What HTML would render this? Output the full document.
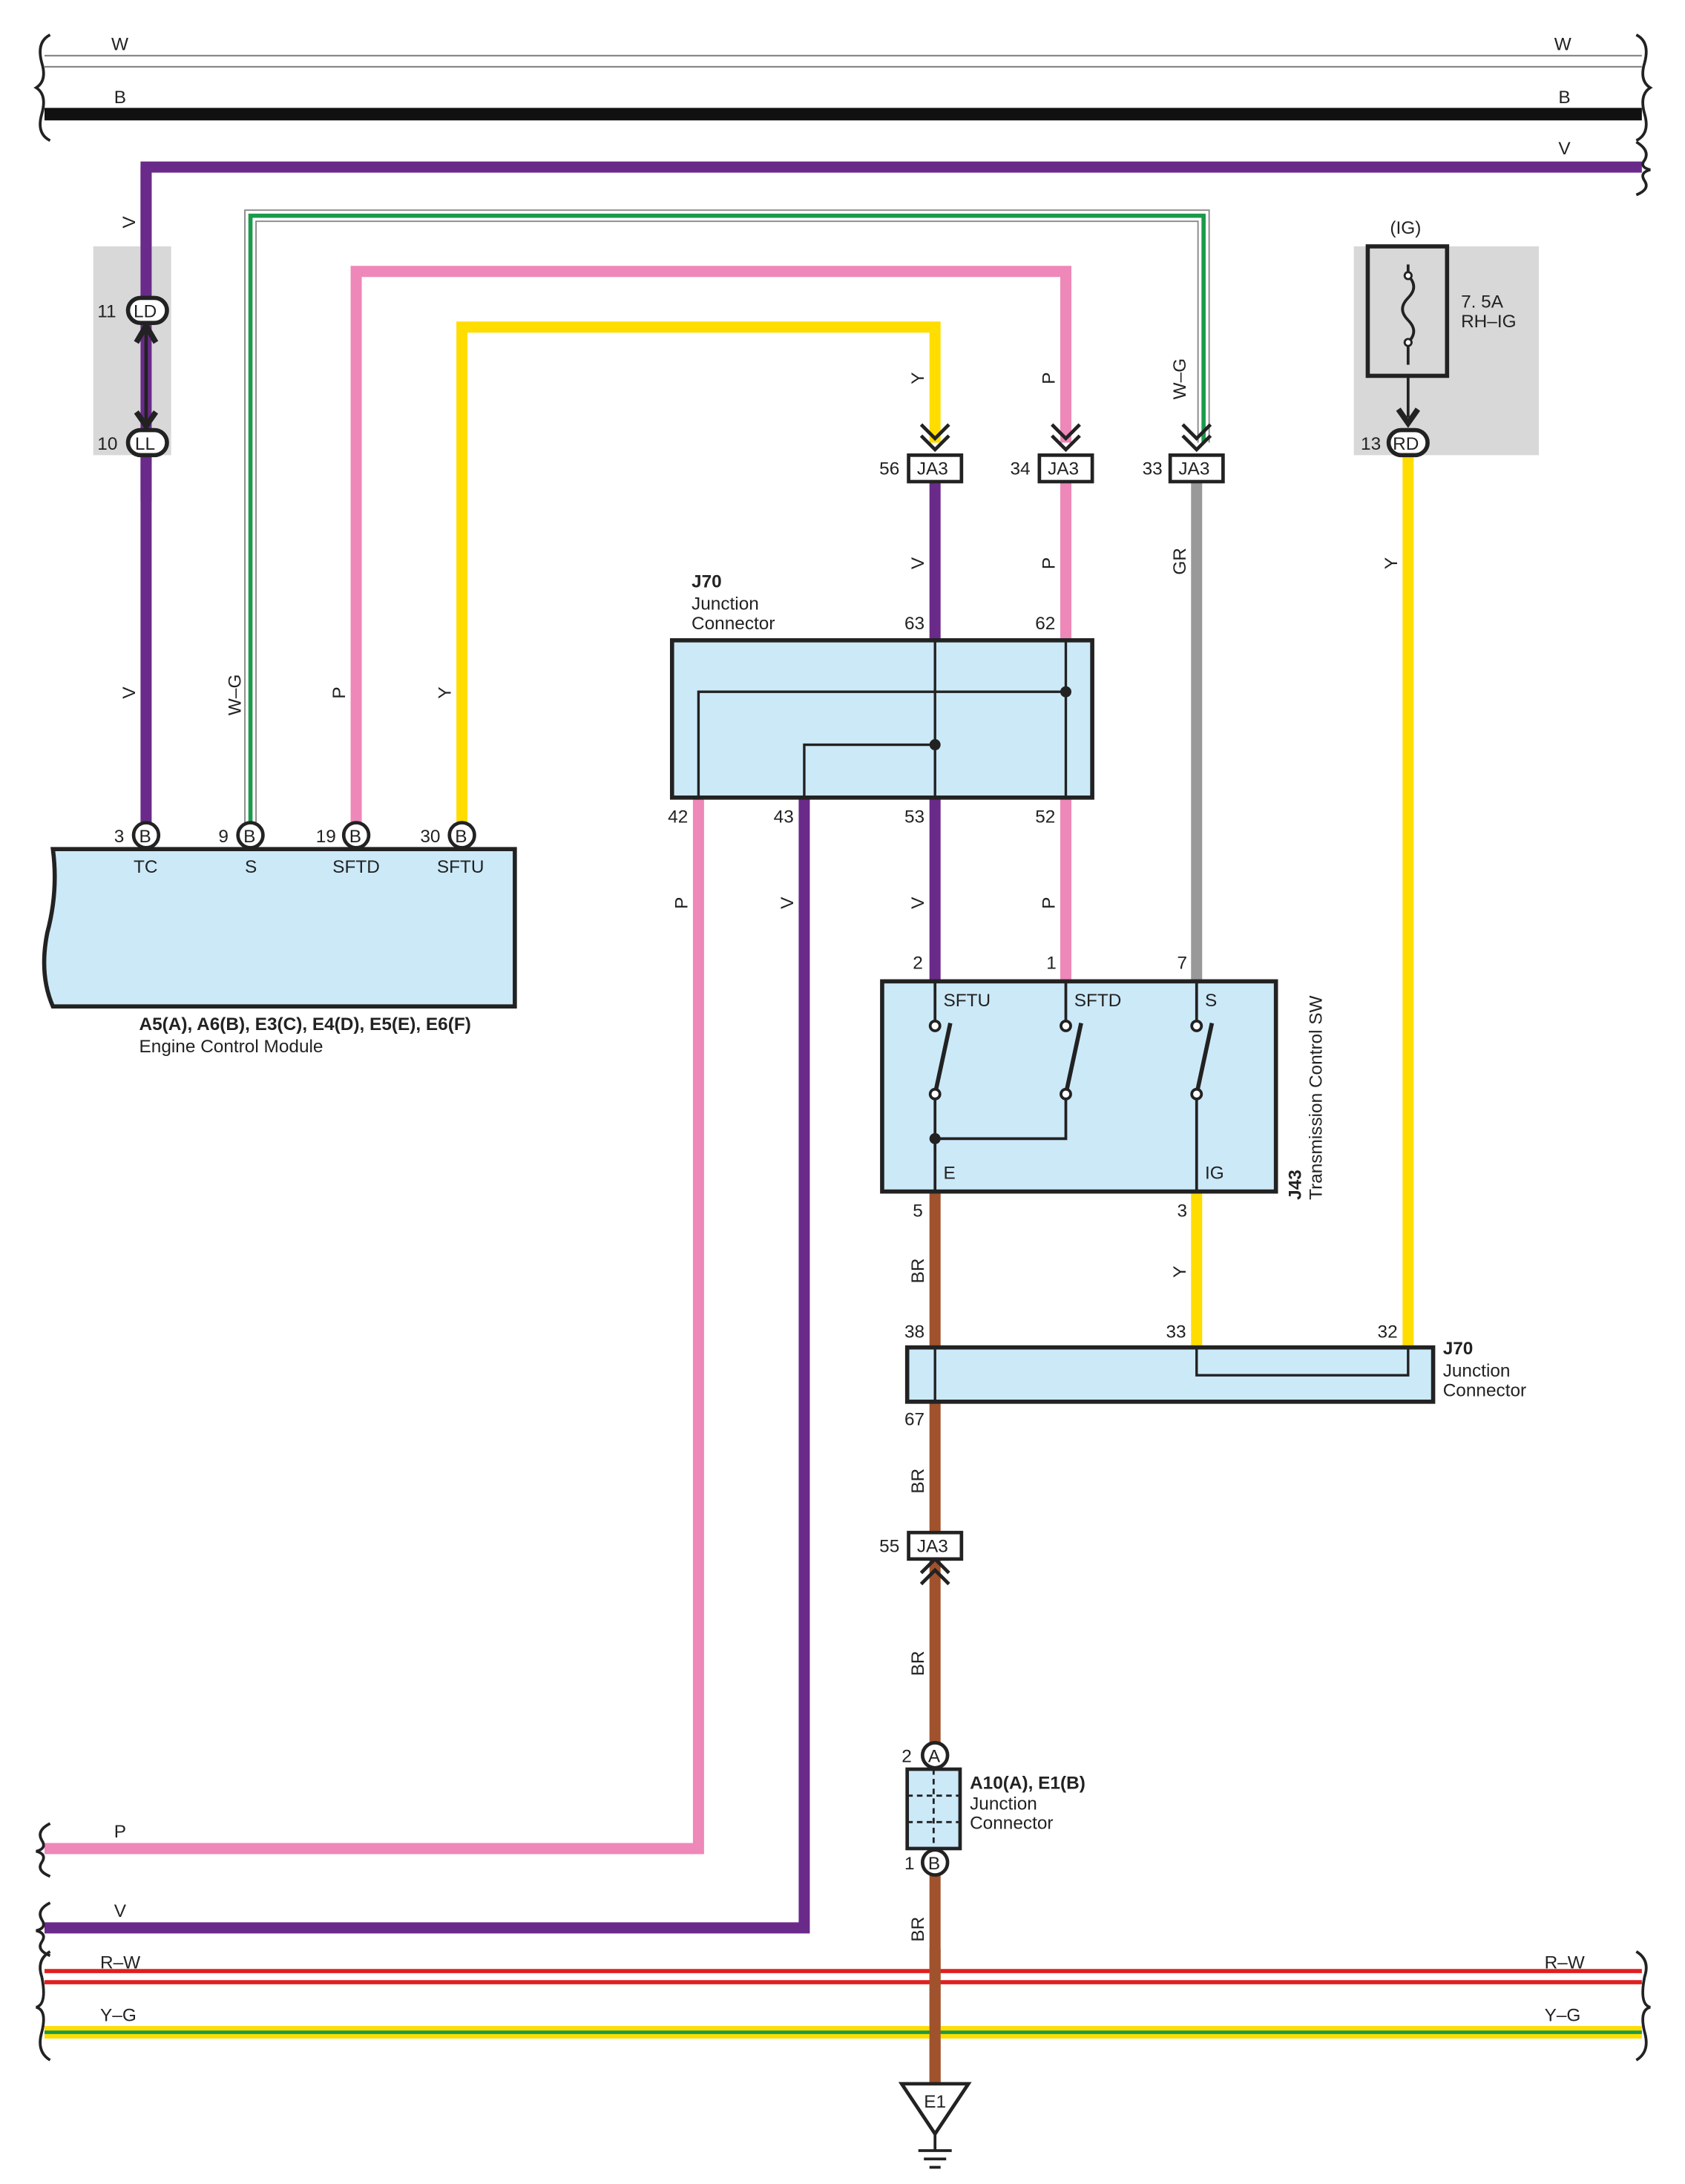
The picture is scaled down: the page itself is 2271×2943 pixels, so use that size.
<!DOCTYPE html>
<html><head><meta charset="utf-8"><style>
html,body{margin:0;padding:0;background:#fff}
svg{display:block}
text{font-family:"Liberation Sans",sans-serif;font-size:13px;fill:#222}
</style></head><body>
<svg width="2271" height="2943" viewBox="0 0 1211 1569" preserveAspectRatio="none" xmlns="http://www.w3.org/2000/svg">
<g fill="none" stroke-linejoin="miter">
<!-- W wire -->
<line x1="32" y1="40" x2="1180" y2="40" stroke="#888" stroke-width="1.2"/>
<line x1="32" y1="48" x2="1180" y2="48" stroke="#888" stroke-width="1.2"/>
<!-- B wire -->
<line x1="32" y1="82" x2="1180" y2="82" stroke="#111" stroke-width="9"/>
<!-- V top -->
<path d="M105 600 V120 H1180" stroke="#6a2a8a" stroke-width="8"/>
<!-- W-G -->
<path d="M180 600 V155 H865 V318" stroke="#888" stroke-width="9"/>
<path d="M180 600 V155 H865 V318" stroke="#fff" stroke-width="7"/>
<path d="M180 600 V155 H865 V318" stroke="#1a9a4a" stroke-width="3"/>
<!-- Pink -->
<path d="M256 600 V195 H766 V318" stroke="#ee88b8" stroke-width="8"/>
<path d="M766 345 V460 M766 573 V705" stroke="#ee88b8" stroke-width="8"/>
<path d="M502 573 V1328 H32" stroke="#ee88b8" stroke-width="8"/>
<!-- Yellow -->
<path d="M332 600 V235 H672 V318" stroke="#ffdd00" stroke-width="8"/>
<path d="M1012 327 V968 M860 856 V968" stroke="#ffdd00" stroke-width="8"/>
<!-- Purple -->
<path d="M672 345 V460 M672 573 V705" stroke="#6a2a8a" stroke-width="8"/>
<path d="M578 573 V1385 H32" stroke="#6a2a8a" stroke-width="8"/>
<!-- Gray -->
<path d="M860 345 V705" stroke="#999" stroke-width="8"/>
<!-- Brown -->
<path d="M672 856 V1500" stroke="#a0522d" stroke-width="8"/>
<!-- R-W -->
<line x1="32" y1="1416" x2="1180" y2="1416" stroke="#e02020" stroke-width="3"/>
<line x1="32" y1="1424" x2="1180" y2="1424" stroke="#e02020" stroke-width="3"/>
<!-- Y-G -->
<line x1="32" y1="1460" x2="1180" y2="1460" stroke="#ffdd00" stroke-width="9"/>
<line x1="32" y1="1460" x2="1180" y2="1460" stroke="#1a9a4a" stroke-width="2.5"/>
<!-- brown over horizontal -->
<path d="M672 1400 V1500" stroke="#a0522d" stroke-width="8"/>
<!-- brace ends -->
<g stroke="#222" stroke-width="2">
<path d="M36 25 Q26 30 30 45 Q34 58 26 63 Q34 68 30 82 Q26 96 36 101"/>
<path d="M1176 25 Q1186 30 1182 45 Q1178 58 1186 63 Q1178 68 1182 82 Q1186 96 1176 101"/>
<path d="M1176 102 Q1186 108 1182 115 Q1178 120 1186 122 Q1178 124 1182 130 Q1186 136 1176 140"/>
<path d="M36 1310 Q26 1315 30 1322 Q34 1328 26 1330 Q34 1332 30 1338 Q26 1344 36 1348"/>
<path d="M36 1367 Q26 1372 30 1379 Q34 1385 26 1387 Q34 1389 30 1395 Q26 1401 36 1405"/>
<path d="M36 1402 Q26 1408 30 1420 Q34 1440 26 1442 Q34 1444 30 1460 Q26 1474 36 1480"/>
<path d="M1176 1402 Q1186 1408 1182 1420 Q1178 1440 1186 1442 Q1178 1444 1182 1460 Q1186 1474 1176 1480"/>
</g>
</g>
<!-- gray boxes -->
<rect x="67" y="177" width="56" height="150" fill="#d8d8d8"/>
<rect x="973" y="177" width="133" height="150" fill="#d8d8d8"/>
<path d="M105 120 V360" stroke="#6a2a8a" stroke-width="8"/>
<path d="M1012 270 V300" stroke="#222" stroke-width="2"/>
<!-- LD LL -->
<line x1="105" y1="232" x2="105" y2="308" stroke="#222" stroke-width="2.5"/>
<path d="M98 246 L105 234 L112 246 M98 296 L105 306 L112 296" fill="none" stroke="#222" stroke-width="4"/>
<rect x="92" y="214" width="28" height="18" rx="9" fill="#fff" stroke="#222" stroke-width="3"/>
<rect x="92" y="309" width="28" height="18" rx="9" fill="#fff" stroke="#222" stroke-width="3"/>
<text x="96" y="228">LD</text><text x="97" y="323">LL</text>
<text x="70" y="228">11</text><text x="70" y="323">10</text>
<!-- fuse -->
<rect x="983" y="177" width="57" height="93" fill="none" stroke="#222" stroke-width="3"/>
<path d="M1012 190 V198 Q1020 206 1012 214 Q1004 222 1012 230 Q1020 238 1012 246 V262" fill="none" stroke="#222" stroke-width="2"/>
<circle cx="1012" cy="198" r="2.5" fill="#fff" stroke="#222" stroke-width="1.5"/>
<circle cx="1012" cy="246" r="2.5" fill="#fff" stroke="#222" stroke-width="1.5"/>
<path d="M1005 294 L1012 304 L1019 294" fill="none" stroke="#222" stroke-width="4"/>
<rect x="998" y="309" width="28" height="18" rx="9" fill="#fff" stroke="#222" stroke-width="3"/>
<text x="1001" y="323">RD</text><text x="978" y="323">13</text>
<text x="999" y="168">(IG)</text>
<text x="1050" y="221">7. 5A</text><text x="1050" y="235">RH–IG</text>
<!-- JA3 top -->
<g stroke="#222" stroke-width="2.5" fill="none">
<path d="M662 305 L672 315 L682 305 M662 313 L672 323 L682 313"/>
<path d="M756 305 L766 315 L776 305 M756 313 L766 323 L776 313"/>
<path d="M850 305 L860 315 L870 305 M850 313 L860 323 L870 313"/>
<path d="M662 1138 L672 1128 L682 1138 M662 1130 L672 1120 L682 1130"/>
</g>
<g fill="#fff" stroke="#222" stroke-width="2.5">
<rect x="653" y="327" width="38" height="19"/><rect x="747" y="327" width="38" height="19"/><rect x="841" y="327" width="38" height="19"/>
<rect x="653" y="1101" width="38" height="19"/>
</g>
<text x="659" y="341">JA3</text><text x="753" y="341">JA3</text><text x="847" y="341">JA3</text><text x="659" y="1115">JA3</text>
<text x="632" y="341">56</text><text x="726" y="341">34</text><text x="821" y="341">33</text><text x="632" y="1115">55</text>
<!-- J70 upper -->
<rect x="483" y="460" width="302" height="113" fill="#cce9f8" stroke="#222" stroke-width="3"/>
<g stroke="#222" stroke-width="1.8" fill="none">
<path d="M672 460 V573 M766 460 V573 M502 573 V497 H766 M578 573 V535 H672"/>
</g>
<circle cx="766" cy="497" r="4" fill="#222"/><circle cx="672" cy="535" r="4" fill="#222"/>
<text x="497" y="422" style="font-weight:bold">J70</text><text x="497" y="438">Junction</text><text x="497" y="452">Connector</text>
<text x="650" y="452">63</text><text x="744" y="452">62</text>
<text x="480" y="591">42</text><text x="556" y="591">43</text><text x="650" y="591">53</text><text x="744" y="591">52</text>
<!-- ECM -->
<path d="M38 610 H370 V723 H38 Q28 700 34 670 Q42 640 38 610 Z" fill="#cce9f8" stroke="#222" stroke-width="3"/>
<g fill="#fff" stroke="#222" stroke-width="2.5">
<circle cx="105" cy="600" r="9"/><circle cx="180" cy="600" r="9"/><circle cx="256" cy="600" r="9"/><circle cx="332" cy="600" r="9"/>
<circle cx="672" cy="1261" r="9"/><circle cx="672" cy="1338" r="9"/>
</g>
<text x="100" y="605">B</text><text x="175" y="605">B</text><text x="251" y="605">B</text><text x="327" y="605">B</text>
<text x="82" y="605">3</text><text x="157" y="605">9</text><text x="227" y="605">19</text><text x="302" y="605">30</text>
<text x="96" y="627">TC</text><text x="176" y="627">S</text><text x="239" y="627">SFTD</text><text x="314" y="627">SFTU</text>
<text x="100" y="740" style="font-weight:bold">A5(A), A6(B), E3(C), E4(D), E5(E), E6(F)</text>
<text x="100" y="756">Engine Control Module</text>
<!-- J43 -->
<rect x="634" y="705" width="283" height="151" fill="#cce9f8" stroke="#222" stroke-width="3"/>
<g stroke="#222" stroke-width="2" fill="none">
<path d="M672 705 V733 M766 705 V733 M860 705 V733"/>
<path d="M672 790 V856 M766 790 V818 H672 M860 790 V856"/>
<path d="M672 786 L683 735 M766 786 L777 735 M860 786 L871 735" stroke-width="3"/>
<circle cx="672" cy="737" r="3.5" fill="#fff"/><circle cx="766" cy="737" r="3.5" fill="#fff"/><circle cx="860" cy="737" r="3.5" fill="#fff"/>
<circle cx="672" cy="786" r="3.5" fill="#fff"/><circle cx="766" cy="786" r="3.5" fill="#fff"/><circle cx="860" cy="786" r="3.5" fill="#fff"/>
</g>
<circle cx="672" cy="818" r="4" fill="#222"/>
<text x="678" y="723">SFTU</text><text x="772" y="723">SFTD</text><text x="866" y="723">S</text>
<text x="678" y="847">E</text><text x="866" y="847">IG</text>
<text x="656" y="696">2</text><text x="752" y="696">1</text><text x="846" y="696">7</text>
<text x="656" y="874">5</text><text x="846" y="874">3</text>
<text transform="translate(935,862) rotate(-90)" style="font-weight:bold">J43</text>
<text transform="translate(950,862) rotate(-90)">Transmission Control SW</text>
<!-- J70 lower -->
<rect x="652" y="968" width="378" height="39" fill="#cce9f8" stroke="#222" stroke-width="3"/>
<path d="M672 968 V1007 M860 968 V988 H1012 V968" stroke="#222" stroke-width="1.8" fill="none"/>
<text x="650" y="961">38</text><text x="838" y="961">33</text><text x="990" y="961">32</text><text x="650" y="1024">67</text>
<text x="1037" y="973" style="font-weight:bold">J70</text><text x="1037" y="989">Junction</text><text x="1037" y="1003">Connector</text>
<!-- A10 -->
<rect x="652" y="1271" width="38" height="57" fill="#cce9f8" stroke="#222" stroke-width="2.5"/>
<path d="M652 1290 H690 M652 1309 H690 M671 1271 V1328" stroke="#222" stroke-width="1.5" stroke-dasharray="4 3"/>
<text x="667" y="1266">A</text><text x="667" y="1343">B</text>
<text x="648" y="1266">2</text><text x="650" y="1343">1</text>
<text x="697" y="1285" style="font-weight:bold">A10(A), E1(B)</text><text x="697" y="1300">Junction</text><text x="697" y="1314">Connector</text>
<!-- ground -->
<path d="M648 1497 H696 L672 1533 Z" fill="#fff" stroke="#222" stroke-width="2.5"/>
<path d="M672 1533 V1545 M660 1545 H684 M664 1551 H680 M668 1557 H676" stroke="#222" stroke-width="2"/>
<text x="664" y="1514">E1</text>
<!-- wire labels horizontal -->
<text x="80" y="36">W</text><text x="1117" y="36">W</text>
<text x="82" y="74">B</text><text x="1120" y="74">B</text>
<text x="1120" y="111">V</text>
<text x="82" y="1320">P</text><text x="82" y="1377">V</text>
<text x="72" y="1414">R–W</text><text x="1110" y="1414">R–W</text>
<text x="72" y="1452">Y–G</text><text x="1110" y="1452">Y–G</text>
<!-- vertical labels -->
<g>
<text transform="translate(97,164) rotate(-90)">V</text>
<text transform="translate(97,502) rotate(-90)">V</text>
<text transform="translate(173,514) rotate(-90)">W–G</text>
<text transform="translate(248,502) rotate(-90)">P</text>
<text transform="translate(324,502) rotate(-90)">Y</text>
<text transform="translate(664,276) rotate(-90)">Y</text>
<text transform="translate(758,276) rotate(-90)">P</text>
<text transform="translate(852,287) rotate(-90)">W–G</text>
<text transform="translate(664,409) rotate(-90)">V</text>
<text transform="translate(758,409) rotate(-90)">P</text>
<text transform="translate(852,413) rotate(-90)">GR</text>
<text transform="translate(1004,409) rotate(-90)">Y</text>
<text transform="translate(494,653) rotate(-90)">P</text>
<text transform="translate(570,653) rotate(-90)">V</text>
<text transform="translate(664,653) rotate(-90)">V</text>
<text transform="translate(758,653) rotate(-90)">P</text>
<text transform="translate(664,922) rotate(-90)">BR</text>
<text transform="translate(852,918) rotate(-90)">Y</text>
<text transform="translate(664,1073) rotate(-90)">BR</text>
<text transform="translate(664,1204) rotate(-90)">BR</text>
<text transform="translate(664,1395) rotate(-90)">BR</text>
</g>
</svg>
</body></html>
